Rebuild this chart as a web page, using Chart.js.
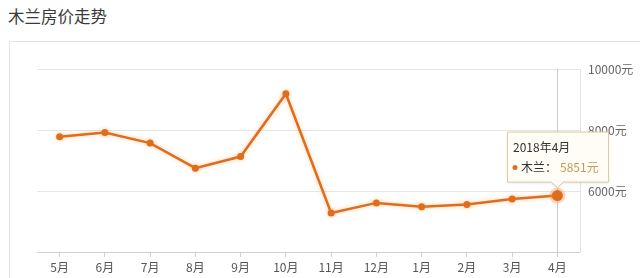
<!DOCTYPE html>
<html>
<head>
<meta charset="utf-8">
<script src="https://cdn.jsdelivr.net/npm/chart.js@4/dist/chart.umd.min.js"></script>
<style>
  html, body { margin: 0; padding: 0; background: #fff; }
  #wrap { position: relative; width: 640px; height: 278px; overflow: hidden; }
  #title { position: absolute; left: 8px; top: 4px; font: 16.5px "Noto Sans CJK SC", sans-serif; color: #3a3a3a; }
  #panel { position: absolute; left: 9px; top: 41px; width: 700px; height: 300px; border: 1px solid #e3e3e3; box-sizing: border-box; }
  canvas { position: absolute; left: 0; top: 0; }
</style>
</head>
<body>
<div id="wrap">
  <div id="title">木兰房价走势</div>
  <div id="panel"></div>
  <canvas id="c" width="640" height="278"></canvas>
</div>
<script>
const categories = ['5月','6月','7月','8月','9月','10月','11月','12月','1月','2月','3月','4月'];
const prices = [7780, 7920, 7570, 6750, 7130, 9190, 5280, 5610, 5480, 5560, 5740, 5851];
const yTicks = [4000, 6000, 8000, 10000];
const seriesName = '木兰';
const tooltipTitle = '2018年4月';
const unit = '元';

const ORANGE = '#e06c1e';
const FONT = '"Noto Sans CJK SC", sans-serif';
const lastIdx = prices.length - 1;

const overlay = {
  id: 'overlay',
  beforeDatasetsDraw(chart) {
    const ctx = chart.ctx;
    const meta = chart.getDatasetMeta(0);
    const p = meta.data[lastIdx];
    const a = chart.chartArea;
    ctx.save();
    ctx.strokeStyle = '#cdcdcd';
    ctx.lineWidth = 1;
    ctx.beginPath();
    ctx.moveTo(Math.round(p.x) + 0.5, a.top);
    ctx.lineTo(Math.round(p.x) + 0.5, a.bottom);
    ctx.stroke();
    ctx.restore();
    ctx.save();
    ctx.shadowColor = 'rgba(240,150,60,0.45)';
    ctx.shadowBlur = 4;
  },
  afterDatasetsDraw(chart) {
    const ctx = chart.ctx;
    ctx.restore();
    const meta = chart.getDatasetMeta(0);
    const p = meta.data[lastIdx];
    // highlighted point
    ctx.save();
    ctx.fillStyle = 'rgba(240,140,60,0.35)';
    ctx.beginPath(); ctx.arc(p.x, p.y, 8, 0, Math.PI * 2); ctx.fill();
    ctx.fillStyle = ORANGE;
    ctx.beginPath(); ctx.arc(p.x, p.y, 5.5, 0, Math.PI * 2); ctx.fill();
    ctx.restore();

    // tooltip
    const bx = 507, bw = 101, bh = 50;
    const tipY = p.y - 8;
    const by = tipY - 6 - bh;
    const ax = p.x;
    ctx.save();
    ctx.shadowColor = 'rgba(0,0,0,0.12)';
    ctx.shadowBlur = 3;
    ctx.shadowOffsetY = 1;
    ctx.beginPath();
    ctx.moveTo(bx + 0.5, by + 0.5);
    ctx.lineTo(bx + bw + 0.5, by + 0.5);
    ctx.lineTo(bx + bw + 0.5, by + bh + 0.5);
    ctx.lineTo(ax + 6, by + bh + 0.5);
    ctx.lineTo(ax, tipY);
    ctx.lineTo(ax - 6, by + bh + 0.5);
    ctx.lineTo(bx + 0.5, by + bh + 0.5);
    ctx.closePath();
    ctx.fillStyle = '#fffdf6';
    ctx.fill();
    ctx.shadowColor = 'transparent';
    ctx.strokeStyle = '#dccba4';
    ctx.lineWidth = 1;
    ctx.stroke();

    ctx.textBaseline = 'middle';
    ctx.textAlign = 'left';
    ctx.font = '12px ' + FONT;
    ctx.fillStyle = '#333';
    ctx.fillText(tooltipTitle, bx + 6, by + 16);
    ctx.fillStyle = ORANGE;
    ctx.beginPath(); ctx.arc(bx + 8, by + 36, 2.5, 0, Math.PI * 2); ctx.fill();
    ctx.fillStyle = '#333';
    ctx.fillText(seriesName + '：', bx + 14, by + 36);
    ctx.fillStyle = '#c49a55';
    ctx.fillText(prices[lastIdx] + unit, bx + 53, by + 36);
    ctx.restore();
  }
};

new Chart(document.getElementById('c'), {
  type: 'line',
  data: {
    labels: categories,
    datasets: [{
      label: seriesName,
      data: prices,
      borderColor: ORANGE,
      backgroundColor: ORANGE,
      borderWidth: 2.5,
      pointRadius: prices.map((v, i) => i === lastIdx ? 0 : 3.5),
      pointBorderWidth: 0,
      pointBackgroundColor: ORANGE,
      tension: 0,
      fill: false
    }]
  },
  options: {
    responsive: false,
    animation: false,
    devicePixelRatio: 1,
    layout: { padding: { left: 37, top: 69, right: 0, bottom: 0 } },
    plugins: { legend: { display: false }, tooltip: { enabled: false } },
    scales: {
      x: {
        type: 'category',
        offset: true,
        grid: { display: true, drawOnChartArea: false, drawTicks: true, tickLength: 5, offset: false, color: '#cfcfcf' },
        border: { display: true, color: '#cfcfcf', width: 1 },
        ticks: { color: '#555', font: { size: 12, family: FONT }, padding: 3, maxRotation: 0, autoSkip: false },
        afterFit(s) { s.height = 26; }
      },
      y: {
        position: 'right',
        min: 4000,
        max: 10000,
        afterBuildTicks(s) { s.ticks = yTicks.map(v => ({ value: v })); },
        grid: { color: '#e6e6e6', drawTicks: false },
        border: { display: true, color: '#e3e3e3' },
        ticks: {
          color: '#666',
          font: { size: 12, family: FONT },
          padding: 8,
          callback: v => v === yTicks[0] ? '' : v + unit
        },
        afterFit(s) { s.width = 60; }
      }
    }
  },
  plugins: [overlay]
});
</script>
</body>
</html>
